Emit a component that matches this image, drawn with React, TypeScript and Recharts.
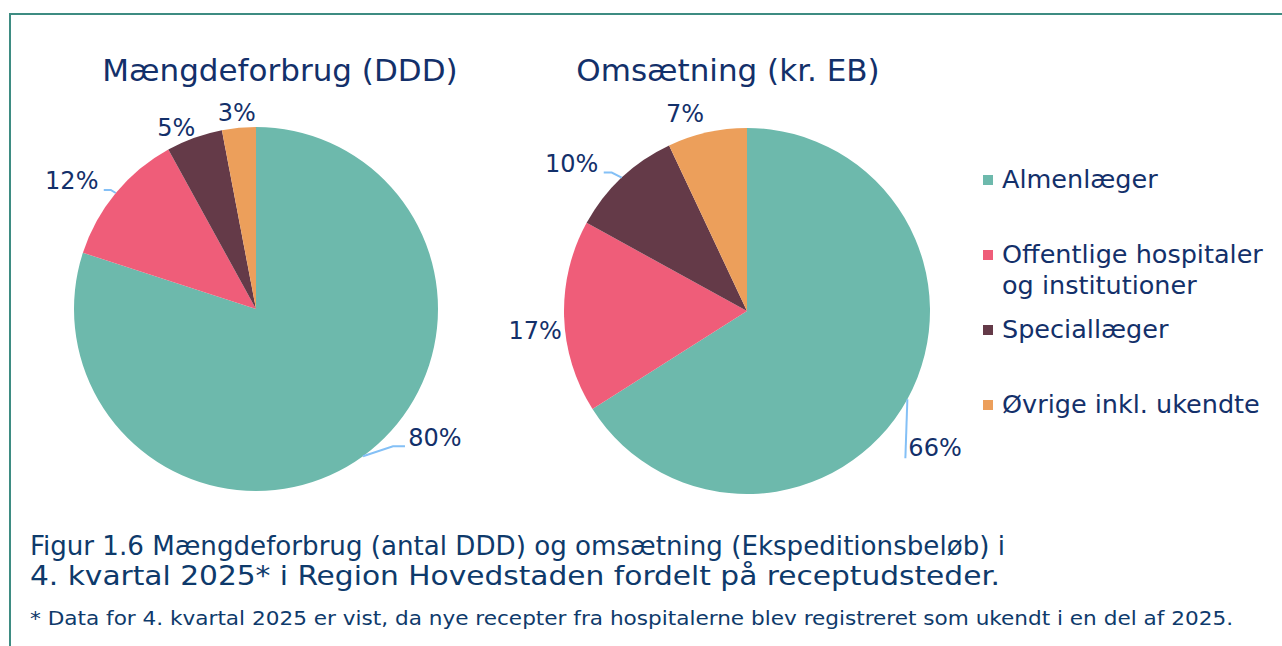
import { PieChart, Pie, Cell, Legend } from "recharts";

const CATEGORIES = ["Almenlæger", "Offentlige hospitaler og institutioner", "Speciallæger", "Øvrige inkl. ukendte"];
const DDD_SHARE = [80, 12, 5, 3];
const REVENUE_SHARE = [66, 17, 10, 7];
const COLORS = ["#6db9ac", "#ef5d79", "#643a48", "#ec9f5b"];

const TITLES = ["Mængdeforbrug (DDD)", "Omsætning (kr. EB)"];
const CAPTION = [
  "Figur 1.6 Mængdeforbrug (antal DDD) og omsætning (Ekspeditionsbeløb) i",
  "4. kvartal 2025* i Region Hovedstaden fordelt på receptudsteder.",
];
const FOOTNOTE = "* Data for 4. kvartal 2025 er vist, da nye recepter fra hospitalerne blev registreret som ukendt i en del af 2025.";

const NAVY = "#13306a";
const LEADER = "#84c0f6";
const FONT = "'DejaVu Sans', Verdana, sans-serif";
const CAP_FONT = "'DejaVu Sans Condensed', 'DejaVu Sans', sans-serif";
const RAD = Math.PI / 180;

// where each label sits relative to the slice edge, plus optional leader points (relative to label centre)
type LabelPos = { dx: number; dy: number; anchor?: "start" | "middle"; leader?: number[][] };
const DDD_LABELS: LabelPos[] = [
  { dx: 72, dy: -18, leader: [[-30, 8], [-42, 8]] },
  { dx: -44, dy: -12, leader: [[32, 9], [39, 9]] },
  { dx: -18, dy: -10 },
  { dx: -2, dy: -15 },
];
const REV_LABELS: LabelPos[] = [
  { dx: 0, dy: 49, anchor: "start", leader: [[-2, 10]] },
  { dx: -29, dy: 14 },
  { dx: -50, dy: -14, leader: [[32, 9], [40, 9]] },
  { dx: -22, dy: -18 },
];

const toRows = (vals: number[]) => CATEGORIES.map((name, i) => ({ name, value: vals[i] }));

function makeLabel(layout: LabelPos[]) {
  return (p: any) => {
    const a = -p.midAngle * RAD;
    const ex = p.cx + p.outerRadius * Math.cos(a);
    const ey = p.cy + p.outerRadius * Math.sin(a);
    const l = layout[p.index];
    const lx = ex + l.dx;
    const ly = ey + l.dy;
    const pts = l.leader
      ? [...l.leader.map(([x, y]) => `${lx + x},${ly + y}`), `${ex},${ey}`].join(" ")
      : null;
    return (
      <g key={`lbl-${p.index}`}>
        {pts && <polyline points={pts} fill="none" stroke={LEADER} strokeWidth={2} />}
        <text
          x={l.anchor === "start" ? ex + 1 : lx}
          y={ly}
          textAnchor={l.anchor ?? "middle"}
          dominantBaseline="central"
          fill={NAVY}
          fontSize={24}
          fontFamily={FONT}
        >
          {`${p.value}%`}
        </text>
      </g>
    );
  };
}

function LegendBox() {
  return (
    <div style={{ fontFamily: FONT, fontSize: 25.5, color: NAVY }}>
      {CATEGORIES.map((c, i) => (
        <div key={c} style={{ display: "flex", alignItems: "flex-start", height: 75, lineHeight: "31px" }}>
          <span
            style={{ width: 10, height: 10, background: COLORS[i], marginTop: 11, marginRight: 9, flexShrink: 0 }}
          />
          <span style={{ width: 275 }}>{c}</span>
        </div>
      ))}
    </div>
  );
}

export default function App() {
  return (
    <div style={{ position: "fixed", left: 0, top: 0, width: 1282, height: 646, background: "#fff" }}>
      <PieChart
        width={1282}
        height={646}
        margin={{ top: 0, right: 0, bottom: 0, left: 0 }}
        style={{ position: "absolute", left: 0, top: 0 }}
      >
        <Pie
          data={toRows(DDD_SHARE)}
          dataKey="value"
          nameKey="name"
          cx={256}
          cy={309}
          outerRadius={182}
          startAngle={90}
          endAngle={-270}
          stroke="none"
          labelLine={false}
          label={makeLabel(DDD_LABELS)}
          isAnimationActive={false}
        >
          {DDD_SHARE.map((_, i) => (
            <Cell key={i} fill={COLORS[i]} />
          ))}
        </Pie>
        <Pie
          data={toRows(REVENUE_SHARE)}
          dataKey="value"
          nameKey="name"
          cx={747}
          cy={311}
          outerRadius={183}
          startAngle={90}
          endAngle={-270}
          stroke="none"
          labelLine={false}
          label={makeLabel(REV_LABELS)}
          isAnimationActive={false}
        >
          {REVENUE_SHARE.map((_, i) => (
            <Cell key={i} fill={COLORS[i]} />
          ))}
        </Pie>
        <Legend
          layout="vertical"
          content={() => <LegendBox />}
          wrapperStyle={{ left: 983, top: 164, width: 298 }}
        />
      </PieChart>

      <svg width={1282} height={646} style={{ position: "absolute", left: 0, top: 0, pointerEvents: "none" }}>
        <line x1={10} y1={14} x2={1282} y2={14} stroke="#3e8c82" strokeWidth={2} />
        <line x1={10} y1={13} x2={10} y2={646} stroke="#3e8c82" strokeWidth={2} />
        <text x={280} y={81} textAnchor="middle" fontSize={31} fontFamily={FONT} fill={NAVY}>
          {TITLES[0]}
        </text>
        <text x={728} y={81} textAnchor="middle" fontSize={31} fontFamily={FONT} fill={NAVY}>
          {TITLES[1]}
        </text>
        <g fontSize={27} fontFamily={CAP_FONT} fill="#0e3a6b">
          <text x={30} y={555} textLength={975} lengthAdjust="spacingAndGlyphs">{CAPTION[0]}</text>
          <text x={30} y={585} textLength={970} lengthAdjust="spacingAndGlyphs">{CAPTION[1]}</text>
        </g>
        <text x={30} y={625} fontSize={19} fontFamily={CAP_FONT} fill="#0e3a6b" textLength={1203} lengthAdjust="spacingAndGlyphs">
          {FOOTNOTE}
        </text>
      </svg>
    </div>
  );
}
